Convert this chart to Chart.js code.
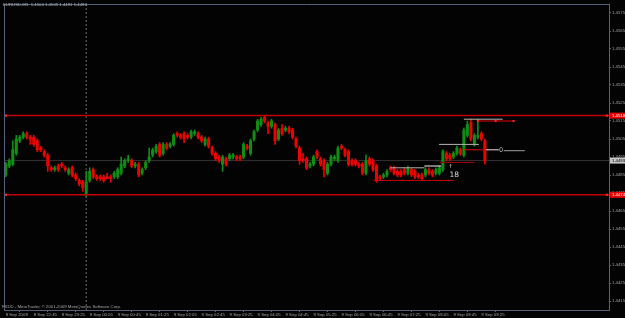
<!DOCTYPE html>
<html><head><meta charset="utf-8">
<script src="https://cdn.jsdelivr.net/npm/chart.js@4.4.1/dist/chart.umd.min.js"></script>
<style>html,body{margin:0;padding:0;background:#000;overflow:hidden}canvas{display:block}</style>
</head><body>
<canvas id="c" width="625" height="318"></canvas>
<script>
// ---------- DATA ----------
const headerText = "EURUSD,M5  1.4504 1.4505 1.4491 1.4493";
const footerText = "FXDD - MetaTrader, \u00A9 2001-2009 MetaQuotes Software Corp.";

// M5 bars from 8 Sep 22:05 to 9 Sep 09:30 (bar index = position)
const opens = [
1.4485,1.4490,1.4491,1.4497,1.4504,1.4506,1.4508,1.4506,1.4506,1.4504,
1.4500,1.4498,1.4496,1.4489,1.4488,1.4490,1.4491,1.4489,1.4486,1.4489,
1.4485,1.4482,1.4481,1.4474,1.4482,1.4488,1.4484,1.4484,1.4484,1.4484,
1.4484,1.4484,1.4484,1.4486,1.4490,1.4493,1.4493,1.4490,1.4491,1.4486,
1.4489,1.4493,1.4496,1.4498,1.4502,1.4497,1.4502,1.4501,1.4502,1.4508,
1.4507,1.4508,1.4507,1.4506,1.4508,1.4508,1.4506,1.4502,1.4505,1.4500,
1.4497,1.4495,1.4491,1.4494,1.4494,1.4495,1.4495,1.4495,1.4495,1.4501,
1.4497,1.4505,1.4510,1.4513,1.4517,1.4514,1.4512,1.4513,1.4505,1.4511,
1.4510,1.4511,1.4510,1.4505,1.4500,1.4494,1.4494,1.4490,1.4491,1.4498,
1.4494,1.4493,1.4486,1.4491,1.4494,1.4493,1.4501,1.4499,1.4498,1.4493,
1.4493,1.4491,1.4491,1.4486,1.4494,1.4493,1.4490,1.4484,1.4484,1.4485,
1.4489,1.4489,1.4487,1.4487,1.4488,1.4486,1.4488,1.4487,1.4485,1.4485,
1.4485,1.4488,1.4487,1.4486,1.4486,1.4488,1.4497,1.4496,1.4495,1.4497,
1.4499,1.4496,1.4507,1.4514,1.4502,1.4506,1.4508,1.4504];
const highs = [
1.4492,1.4494,1.4504,1.4507,1.4507,1.4509,1.4509,1.4507,1.4507,1.4505,
1.4501,1.4499,1.4497,1.4490,1.4490,1.4491,1.4492,1.4490,1.4489,1.4490,
1.4486,1.4483,1.4482,1.4487,1.4489,1.4489,1.4485,1.4485,1.4485,1.4486,
1.4485,1.4487,1.4489,1.4495,1.4494,1.4496,1.4494,1.4492,1.4492,1.4489,
1.4493,1.4500,1.4500,1.4502,1.4503,1.4503,1.4503,1.4503,1.4508,1.4509,
1.4508,1.4509,1.4508,1.4510,1.4510,1.4509,1.4507,1.4506,1.4506,1.4501,
1.4498,1.4496,1.4496,1.4495,1.4497,1.4497,1.4496,1.4496,1.4503,1.4502,
1.4505,1.4510,1.4516,1.4517,1.4518,1.4515,1.4516,1.4514,1.4511,1.4513,
1.4512,1.4512,1.4511,1.4506,1.4501,1.4497,1.4495,1.4492,1.4496,1.4499,
1.4495,1.4494,1.4492,1.4496,1.4496,1.4501,1.4502,1.4500,1.4499,1.4494,
1.4494,1.4492,1.4492,1.4496,1.4495,1.4494,1.4491,1.4485,1.4486,1.4488,
1.4490,1.4490,1.4488,1.4488,1.4489,1.4490,1.4489,1.4488,1.4486,1.4486,
1.4489,1.4489,1.4488,1.4489,1.4490,1.4499,1.4498,1.4497,1.4498,1.4501,
1.4500,1.4511,1.4515,1.4516,1.4508,1.4516,1.4509,1.4505];
const lows = [
1.4484,1.4489,1.4490,1.4496,1.4503,1.4505,1.4505,1.4502,1.4501,1.4498,
1.4498,1.4495,1.4487,1.4487,1.4487,1.4487,1.4489,1.4487,1.4485,1.4484,
1.4482,1.4479,1.4476,1.4473,1.4481,1.4483,1.4482,1.4482,1.4481,1.4483,
1.4481,1.4483,1.4483,1.4485,1.4489,1.4492,1.4489,1.4489,1.4484,1.4485,
1.4488,1.4492,1.4495,1.4497,1.4495,1.4496,1.4499,1.4500,1.4501,1.4506,
1.4505,1.4503,1.4505,1.4505,1.4507,1.4505,1.4503,1.4501,1.4500,1.4496,
1.4493,1.4492,1.4487,1.4490,1.4493,1.4494,1.4493,1.4493,1.4494,1.4499,
1.4496,1.4504,1.4509,1.4512,1.4514,1.4508,1.4511,1.4502,1.4504,1.4507,
1.4509,1.4508,1.4505,1.4500,1.4491,1.4492,1.4488,1.4489,1.4490,1.4494,
1.4490,1.4484,1.4485,1.4490,1.4493,1.4492,1.4499,1.4495,1.4490,1.4490,
1.4490,1.4489,1.4485,1.4485,1.4490,1.4487,1.4481,1.4482,1.4483,1.4484,
1.4487,1.4485,1.4484,1.4484,1.4485,1.4485,1.4484,1.4483,1.4483,1.4482,
1.4484,1.4485,1.4484,1.4485,1.4485,1.4487,1.4493,1.4493,1.4494,1.4496,
1.4496,1.4495,1.4506,1.4504,1.4501,1.4505,1.4504,1.4491];
const closes = [
1.4491,1.4493,1.4499,1.4505,1.4506,1.4508,1.4506,1.4505,1.4502,1.4499,
1.4499,1.4496,1.4490,1.4488,1.4489,1.4488,1.4490,1.4488,1.4488,1.4485,
1.4483,1.4480,1.4478,1.4481,1.4487,1.4484,1.4483,1.4483,1.4482,1.4483,
1.4483,1.4486,1.4488,1.4491,1.4493,1.4494,1.4490,1.4491,1.4485,1.4488,
1.4492,1.4495,1.4499,1.4501,1.4496,1.4502,1.4500,1.4502,1.4507,1.4507,
1.4506,1.4505,1.4506,1.4509,1.4509,1.4506,1.4504,1.4505,1.4501,1.4497,
1.4494,1.4493,1.4495,1.4491,1.4496,1.4496,1.4494,1.4494,1.4502,1.4500,
1.4504,1.4509,1.4515,1.4516,1.4515,1.4512,1.4515,1.4504,1.4510,1.4508,
1.4511,1.4509,1.4506,1.4501,1.4493,1.4493,1.4489,1.4491,1.4495,1.4495,
1.4491,1.4488,1.4491,1.4495,1.4495,1.4500,1.4500,1.4496,1.4491,1.4491,
1.4491,1.4490,1.4486,1.4493,1.4491,1.4488,1.4482,1.4483,1.4485,1.4487,
1.4488,1.4486,1.4485,1.4485,1.4486,1.4489,1.4485,1.4484,1.4484,1.4483,
1.4488,1.4486,1.4485,1.4488,1.4489,1.4498,1.4494,1.4494,1.4497,1.4500,
1.4497,1.4510,1.4513,1.4505,1.4507,1.4507,1.4505,1.4493];

const xTickBars = [0,8,16,24,32,40,48,56,64,72,80,88,96,104,112,120,128,136];
const xTickLabels = ["8 Sep 2009","8 Sep 22:45","8 Sep 23:25","9 Sep 00:05","9 Sep 00:45","9 Sep 01:25",
  "9 Sep 02:05","9 Sep 02:45","9 Sep 03:25","9 Sep 04:05","9 Sep 04:45","9 Sep 05:25","9 Sep 06:05",
  "9 Sep 06:45","9 Sep 07:25","9 Sep 08:05","9 Sep 08:45","9 Sep 09:25"];
const yTickValues = [1.4575,1.4565,1.4555,1.4545,1.4535,1.4525,1.4515,1.4505,1.4495,1.4485,
  1.4475,1.4465,1.4455,1.4445,1.4435,1.4425,1.4415];

const levelHigh = 1.4518, levelLow = 1.4474, bidPrice = 1.4493;
const daySeparatorBar = 23;
// drawn objects: [fromBar, toBar, price]
const drawnLines = [
  [110.0, 119.7, 1.4489],
  [119.7, 124.5, 1.4490],
  [105.2, 128.2, 1.4482],
  [123.9, 135.3, 1.4502],
  [124.2, 134.1, 1.4492],
  [131.0, 142.1, 1.4516],
  [131.0, 137.3, 1.4499],
  [137.3, 141.0, 1.4499],
  [142.4, 148.4, 1.44985]
];
const markerLineBars = [135.0, 140.1, 145.2];
const markerLinePrice = 1.4515;

// ---------- STYLE / CONFIG ----------
const xMin = -0.51, xMax = 172.5, yMin = 1.4410, yMax = 1.4580;
const UP = '#0e8e12', DOWN = '#f00000', AXIS = '#56627c', TXT = '#a4a4a4';
const drawnColors = ['#b0b0b0','#f2f2f2','#d00000','#b4b4b4','#a00000','#b8b8b8','#e00000','#f4dada','#a0a0a0'];

const idx = opens.map((_, i) => i);
const candleColors = idx.map(i => closes[i] >= opens[i] ? UP : DOWN);

const datasets = [];
datasets.push({
  type: 'line', order: 20, data: [{x: daySeparatorBar, y: yMin}, {x: daySeparatorBar, y: yMax}],
  borderColor: '#6a6a6a', borderWidth: 1, borderDash: [2, 2], pointRadius: 0
});
datasets.push({
  type: 'line', order: 19, data: [{x: xMin, y: bidPrice}, {x: xMax, y: bidPrice}],
  borderColor: '#333333', borderWidth: 1, pointRadius: 0
});
datasets.push({
  type: 'bar', order: 6, grouped: false, barThickness: 1, minBarLength: 1, borderWidth: 0,
  data: idx.map(i => ({x: i, y: [lows[i], highs[i]]})), backgroundColor: candleColors
});
datasets.push({
  type: 'bar', order: 5, grouped: false, barThickness: 2.4, minBarLength: 1, borderWidth: 0,
  data: idx.map(i => ({x: i, y: [opens[i], closes[i]]})), backgroundColor: candleColors
});
[levelHigh, levelLow].forEach(p => datasets.push({
  type: 'line', order: 2,
  data: [{x: xMin, y: p}, {x: 0.05, y: p}, {x: 171.9, y: p}, {x: xMax, y: p}],
  borderColor: '#c00000', borderWidth: 1.5, pointRadius: [0, 1.6, 1.6, 0],
  pointStyle: 'rect', pointBackgroundColor: '#ff2020', pointBorderWidth: 0
}));
drawnLines.forEach((s, k) => datasets.push({
  type: 'line', order: 1,
  data: [{x: s[0], y: s[2]}, {x: s[1], y: s[2]}],
  borderColor: drawnColors[k], borderWidth: 1, pointRadius: 0
}));
datasets.push({
  type: 'line', order: 0,
  data: markerLineBars.map(b => ({x: b, y: markerLinePrice})),
  borderColor: '#e00000', borderWidth: 1, pointRadius: 1.5, pointStyle: 'rect',
  pointBackgroundColor: '#ff2020', pointBorderWidth: 0
});

const mtPlugin = {
  id: 'mt',
  beforeDraw(chart) {
    const c = chart.ctx; c.save(); c.fillStyle = '#030303'; c.fillRect(0, 0, chart.width, chart.height); c.restore();
  },
  afterDraw(chart) {
    const c = chart.ctx, a = chart.chartArea, y = chart.scales.y, x = chart.scales.x;
    c.save();
    c.strokeStyle = AXIS; c.lineWidth = 1;
    c.beginPath(); c.moveTo(a.left, a.top + 0.5); c.lineTo(a.right, a.top + 0.5);
    c.moveTo(a.left + 0.5, a.top); c.lineTo(a.left + 0.5, a.bottom); c.stroke();
    c.font = '4.3px "Liberation Sans"'; c.textBaseline = 'middle'; c.textAlign = 'left';
    c.fillStyle = '#b8b8b8'; c.fillText(headerText, 3, 5);
    c.fillStyle = TXT; c.fillText(footerText, 2, 307);
    const box = (p, bg, fg) => {
      const py = y.getPixelForValue(p);
      c.fillStyle = bg; c.fillRect(a.right + 1, py - 3, 16, 6);
      c.fillStyle = fg; c.fillText(p.toFixed(4), a.right + 3, py + 0.3);
    };
    box(levelHigh, '#e80000', '#ffffff');
    box(levelLow, '#e80000', '#ffffff');
    box(bidPrice, '#c4c4c4', '#000000');
    c.fillStyle = '#b0b0b0'; c.font = '6.5px "DejaVu Sans"'; c.textAlign = 'center';
    c.fillText('0', x.getPixelForValue(141.6), y.getPixelForValue(1.44985));
    c.fillStyle = '#d8d8d8'; c.font = '7.5px "DejaVu Sans"'; c.textAlign = 'left';
    c.fillText('18', x.getPixelForValue(126.9), y.getPixelForValue(1.4485));
    c.font = '5px "DejaVu Sans"';
    c.fillText('\u2191', x.getPixelForValue(126.6), y.getPixelForValue(1.44895));
    c.restore();
  }
};

new Chart(document.getElementById('c'), {
  type: 'bar',
  data: {datasets},
  options: {
    responsive: false, animation: false, devicePixelRatio: 1,
    layout: {padding: {top: 1, left: 0, right: 0, bottom: 0}},
    plugins: {legend: {display: false}, tooltip: {enabled: false}},
    scales: {
      x: {
        type: 'linear', min: xMin, max: xMax, offset: false,
        afterBuildTicks: s => { s.ticks = xTickBars.map(v => ({value: v})); },
        afterFit: s => { s.height = 8; },
        ticks: {align: 'start', font: {size: 4.3, family: 'Liberation Sans'}, color: TXT, padding: 0,
          maxRotation: 0, autoSkip: false, callback: (v, i) => xTickLabels[i]},
        grid: {drawOnChartArea: false, drawTicks: true, tickLength: 2, color: AXIS},
        border: {display: true, color: AXIS}
      },
      y: {
        type: 'linear', position: 'right', min: yMin, max: yMax,
        afterBuildTicks: s => { s.ticks = yTickValues.map(v => ({value: v})); },
        afterFit: s => { s.width = 16; },
        ticks: {font: {size: 4.3, family: 'Liberation Sans'}, color: TXT, padding: 1, autoSkip: false,
          callback: v => Number(v).toFixed(4)},
        grid: {drawOnChartArea: false, drawTicks: true, tickLength: 2, color: AXIS},
        border: {display: true, color: AXIS}
      }
    }
  },
  plugins: [mtPlugin]
});
</script>
</body></html>
